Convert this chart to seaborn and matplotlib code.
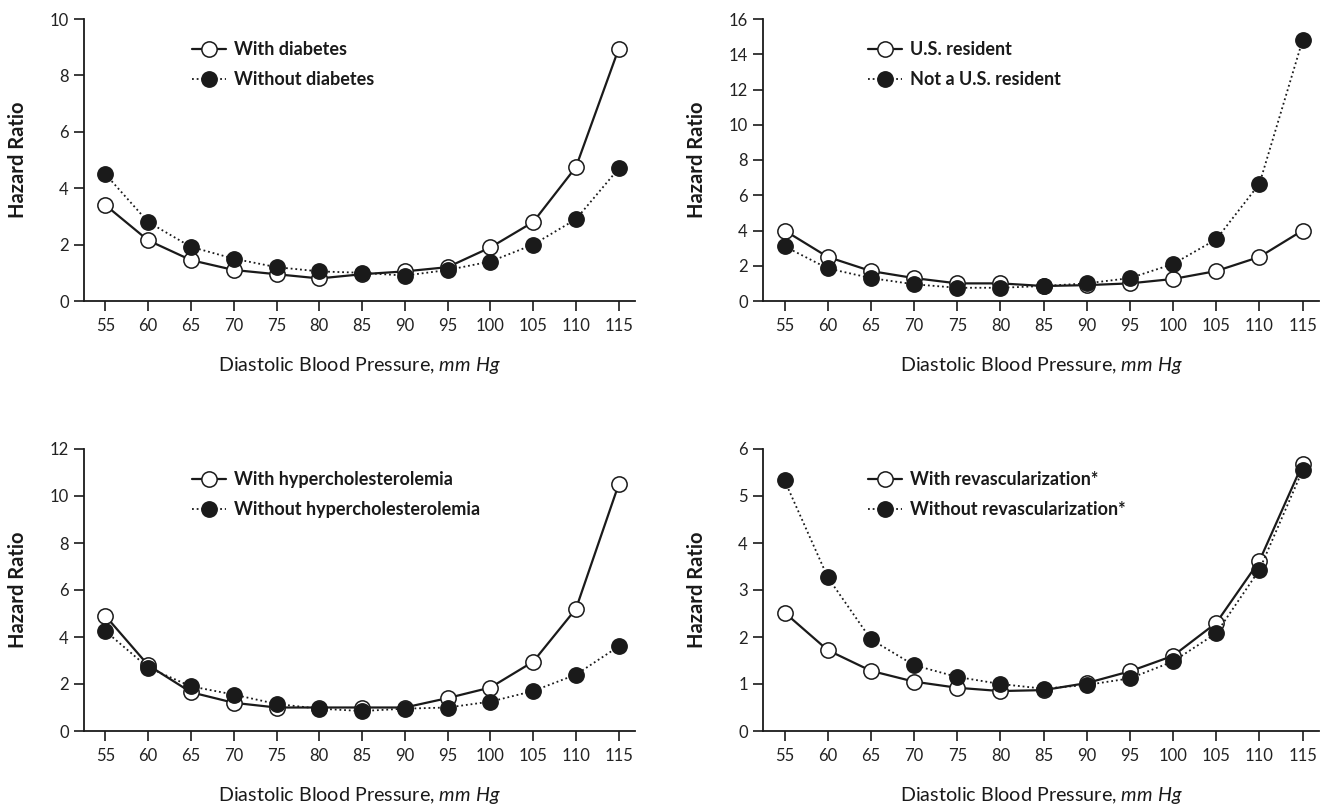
import matplotlib
matplotlib.use("Agg")
import matplotlib.pyplot as plt
import seaborn as sns
import pandas as pd

# ---------------- data ----------------
dbp = [55, 60, 65, 70, 75, 80, 85, 90, 95, 100, 105, 110, 115]

with_diabetes = [3.4, 2.15, 1.45, 1.1, 0.95, 0.8, 0.95, 1.05, 1.2, 1.9, 2.8, 4.75, 8.95]
without_diabetes = [4.5, 2.8, 1.92, 1.5, 1.2, 1.05, 1.0, 0.9, 1.1, 1.4, 2.0, 2.9, 4.7]

us_resident = [4.0, 2.5, 1.7, 1.3, 1.0, 1.0, 0.85, 0.9, 1.0, 1.25, 1.7, 2.5, 4.0]
not_us_resident = [3.1, 1.85, 1.3, 0.95, 0.75, 0.75, 0.85, 1.0, 1.3, 2.1, 3.5, 6.65, 14.8]

with_hyperchol = [4.9, 2.8, 1.65, 1.2, 1.0, 1.0, 1.0, 1.0, 1.4, 1.85, 2.95, 5.2, 10.5]
without_hyperchol = [4.25, 2.7, 1.9, 1.55, 1.15, 0.95, 0.85, 0.95, 1.0, 1.25, 1.7, 2.4, 3.6]

with_revasc = [2.52, 1.72, 1.28, 1.05, 0.92, 0.85, 0.87, 1.02, 1.27, 1.6, 2.3, 3.62, 5.68]
without_revasc = [5.33, 3.27, 1.95, 1.4, 1.15, 1.0, 0.9, 0.98, 1.12, 1.48, 2.08, 3.43, 5.55]

labels_open = ["With diabetes", "U.S. resident", "With hypercholesterolemia",
               "With revascularization*"]
labels_filled = ["Without diabetes", "Not a U.S. resident", "Without hypercholesterolemia",
                 "Without revascularization*"]
series_open = [with_diabetes, us_resident, with_hyperchol, with_revasc]
series_filled = [without_diabetes, not_us_resident, without_hyperchol, without_revasc]
y_max = [10, 16, 12, 6]
y_step = [2, 2, 2, 1]

x_label = r"Diastolic Blood Pressure, $\mathit{mm\ Hg}$"
y_label = "Hazard Ratio"

# ---------------- style ----------------
sns.set_style("ticks")
plt.rcParams["font.family"] = ["Lato", "DejaVu Sans"]
plt.rcParams["mathtext.fontset"] = "custom"
plt.rcParams["mathtext.rm"] = "Lato"
plt.rcParams["mathtext.it"] = "Lato:italic"

ink = "#1a1a1a"
W, H = 1322, 806
fig = plt.figure(figsize=(W / 100, H / 100), dpi=100)

# axes boxes in pixels: (left, top, right, bottom)
boxes = [(84, 19, 635, 301), (763, 19, 1319, 301),
         (84, 449, 635, 731), (763, 449, 1319, 731)]

for i, (l, t, r, b) in enumerate(boxes):
    ax = fig.add_axes([l / W, 1 - b / H, (r - l) / W, (b - t) / H])
    df_open = pd.DataFrame({"DBP": dbp, "HR": series_open[i]})
    df_fill = pd.DataFrame({"DBP": dbp, "HR": series_filled[i]})
    sns.lineplot(data=df_open, x="DBP", y="HR", ax=ax, color=ink, linewidth=1.6,
                 marker="o", markersize=11, markerfacecolor="white",
                 markeredgecolor=ink, markeredgewidth=1.1, clip_on=False,
                 label=labels_open[i], zorder=3)
    sns.lineplot(data=df_fill, x="DBP", y="HR", ax=ax, color=ink, linewidth=1.3,
                 linestyle=(0, (1, 1.6)), marker="o", markersize=11,
                 markerfacecolor=ink, markeredgecolor=ink, markeredgewidth=1.1,
                 clip_on=False, label=labels_filled[i], zorder=4)

    ax.set_xlim(52.5, 116.9)
    ax.set_ylim(0, y_max[i])
    ax.set_xticks(dbp)
    ax.set_yticks(list(range(0, y_max[i] + 1, y_step[i])))
    sns.despine(ax=ax)
    for s in ("left", "bottom"):
        ax.spines[s].set_linewidth(1.3)
        ax.spines[s].set_color(ink)
    ax.tick_params(direction="out", length=7, width=1.2, color=ink,
                   labelsize=12, labelcolor="#222222")
    ax.tick_params(axis="x", pad=5)
    ax.tick_params(axis="y", pad=4)

    wpx, hpx = r - l, b - t
    ax.set_xlabel(x_label, fontsize=14.2, color=ink, va="center")
    ax.xaxis.set_label_coords(0.5, -64 / hpx)
    ax.set_ylabel(y_label, fontsize=14.5, fontweight="bold", color=ink, va="center")
    ax.yaxis.set_label_coords(-66 / wpx, 0.5)

    leg_x = (108 if i % 2 == 0 else 105) / wpx
    ax.legend(loc="upper left", bbox_to_anchor=(leg_x, 1 - 22 / hpx), frameon=False,
              prop={"size": 13, "weight": "bold"}, handlelength=1.9,
              handletextpad=0.4, labelspacing=0.72, borderpad=0, borderaxespad=0)
    for txt in ax.get_legend().get_texts():
        txt.set_color(ink)

fig.savefig("out.png", dpi=100)
